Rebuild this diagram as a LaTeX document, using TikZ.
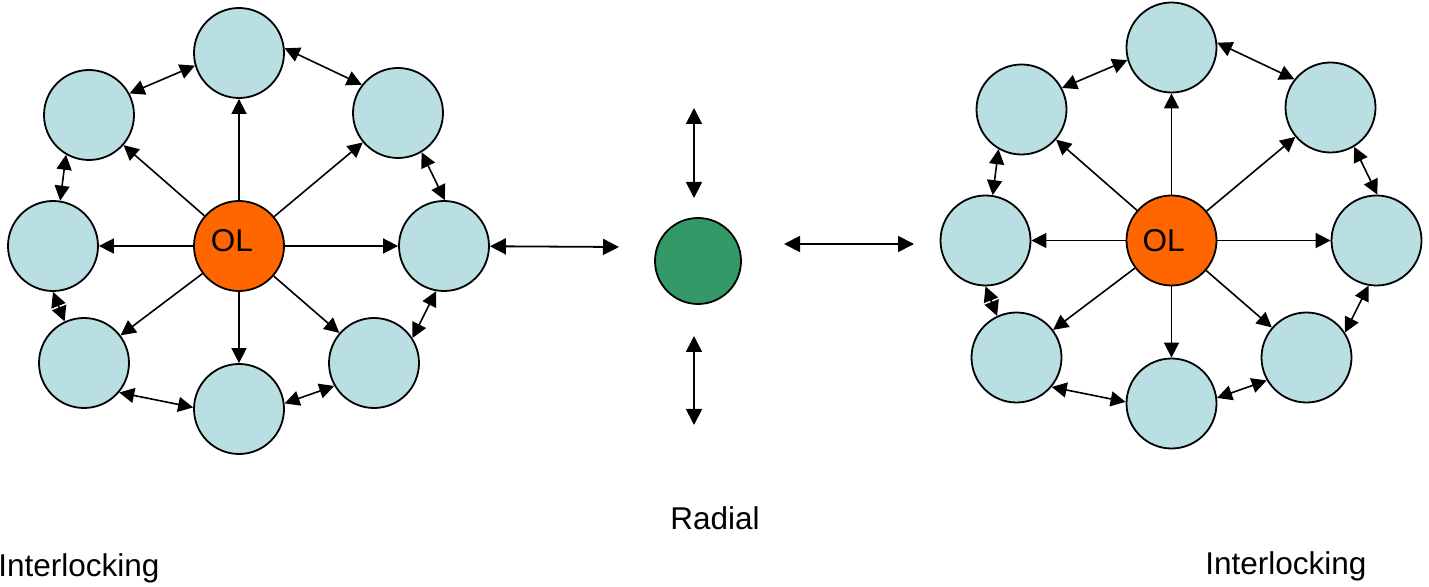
\documentclass[tikz,border=0pt]{standalone}
\usepackage{fontspec}
\setmainfont{Liberation Sans}
\usetikzlibrary{arrows.meta}

\definecolor{peerblue}{RGB}{185,223,226}
\definecolor{olorange}{RGB}{255,102,0}
\definecolor{radgreen}{RGB}{51,153,102}
\tikzstyle{peer} = [draw, circle, line width=0.9pt, minimum size=45pt, inner sep=0pt, fill=peerblue]

\begin{document}
\begin{tikzpicture}[x=0.5pt, y=-0.5pt, font=\fontsize{15.75}{18}\selectfont,
		lead/.style = {peer, fill=olorange},
		hub/.style = {peer, fill=radgreen, minimum size=43pt},
		spoke/.style = {line width=0.8pt, -{Triangle[length=7.5pt,width=7.5pt]}},
		ring/.style = {line width=0.8pt, {Triangle[length=7.5pt,width=7.5pt]}-{Triangle[length=7.5pt,width=7.5pt]}},
		free/.style = {line width=0.9pt, {Triangle[length=8pt,width=8pt]}-{Triangle[length=8pt,width=8pt]}},
		caption/.style = {anchor=base west, inner sep=0pt}]
	\useasboundingbox (0,0) rectangle (1429,587);

	% the two interlocking networks
	\foreach \c/\dx/\dy/\lx/\ly in {1/0/0/-3.5pt/2.75pt, 2/932.5/-5.5/-4pt/-0.25pt} {
		\begin{scope}[shift={(\dx,\dy)}]
			\node (ol\c)[lead, label={[xshift=\lx, yshift=\ly]center:OL}] at (239,246) {};
			\node (t\c)[peer] at (239,53) {};
			\node (tr\c)[peer] at (398,113) {};
			\node (r\c)[peer] at (444,246) {};
			\node (br\c)[peer] at (374,363) {};
			\node (b\c)[peer] at (239,409) {};
			\node (bl\c)[peer] at (84,363) {};
			\node (l\c)[peer] at (53,246) {};
			\node (tl\c)[peer] at (89,115) {};
			\foreach \n in {t,tr,r,br,b,bl,l,tl}
				\draw[spoke] (ol\c) -- (\n\c);
			\draw[ring] (tl\c.28) -- (t\c.196);
			\draw[ring] (t\c.6) -- (tr\c.142);
			\draw[ring] (tr\c.301) -- (r\c.89);
			\draw[ring] (r\c.260) -- (br\c.33);
			\draw[ring] (br\c.210) -- (b\c.7);
			\draw[ring] (b\c.178) -- (bl\c.320);
			\draw[ring] (bl\c.115) -- (l\c.270);
			\draw[ring] (l\c.81) -- (tl\c.240);
		\end{scope}
	}

	% radial
	\node (hub)[hub] at (698,261) {};
	\coordinate (up1) at (694,108);
	\coordinate (up2) at (694,198);
	\coordinate (dn1) at (694,336);
	\coordinate (dn2) at (694,425);
	\coordinate (lt) at (619,247);
	\coordinate (rt1) at (784,244);
	\coordinate (rt2) at (914,244);
	\draw[free] (up1) -- (up2);
	\draw[free] (dn1) -- (dn2);
	\draw[free] (r1) -- (lt);
	\draw[free] (rt1) -- (rt2);

	\node (intl)[caption] at (-2,576) {Interlocking};
	\node (rad)[caption] at (670,529) {Radial};
	\node (intr)[caption] at (1205,574) {Interlocking};
\end{tikzpicture}
\end{document}
